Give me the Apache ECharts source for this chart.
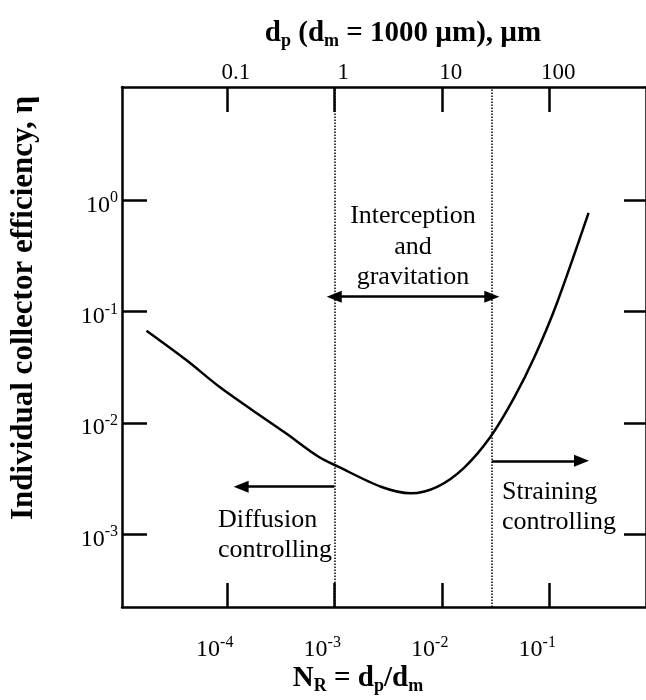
<!DOCTYPE html>
<html>
<head>
<meta charset="utf-8">
<script src="https://cdn.jsdelivr.net/npm/echarts@6/dist/echarts.min.js"></script>
<style>html,body{margin:0;padding:0;background:#fff}#c{width:646px;height:700px}</style>
</head>
<body>
<div id="c"></div>
<script>
// ---- data ----
const nR  = [1.79e-5, 4.20e-5, 8.53e-5, 1.72e-4, 3.52e-4, 7.14e-4, 1.09e-3, 2.72e-3, 5.15e-3, 9.16e-3, 0.0161, 0.0283, 0.0470, 0.0735, 0.117, 0.232];
const eta = [0.0673, 0.0367, 0.0211, 0.01306, 8.11e-3, 4.97e-3, 4.04e-3, 2.67e-3, 2.33e-3, 2.68e-3, 3.95e-3, 7.46e-3, 0.01675, 0.0399, 0.117, 0.769];
const bottomTicks = [1e-4, 1e-3, 1e-2, 1e-1];
const topTicks = [0.1, 1, 10, 100];
const topTickLabels = ['0.1', '1', '10', '100'];
const yTicks = [1, 0.1, 0.01, 0.001];
const regionBounds = [1e-3, 0.0292];          // dotted boundaries (N_R)
const interArrowY = 0.136;                    // double arrow level
const diffArrow = [[1e-3, 2.67e-3], [1.36e-4, 2.67e-3]];
const strainArrow = [[0.0292, 4.57e-3], [0.1995, 4.57e-3]];
const dm = 1000; // µm
const xRange = [1.06e-5, 0.794];
const yRange = [2.22e-4, 10.4];

const FONT = "'Liberation Serif','Times New Roman',serif";
const chart = echarts.init(document.getElementById('c'), null, {renderer: 'canvas'});
const supRich = {
  n: {fontFamily: FONT, fontSize: 24, color: '#000'},
  e: {fontFamily: FONT, fontSize: 16, color: '#000', padding: [0, 0, 14, 0]}
};
function pow10Label(v) {
  const e = Math.round(Math.log10(v));
  return '{n|10}{e|' + e + '}';
}
const black = '#000';
const pts = nR.map((x, i) => [x, eta[i]]);

chart.setOption({
  animation: false,
  backgroundColor: '#fff',
  grid: {left: 122, top: 87, right: -4, bottom: 93, containLabel: false},
  xAxis: [
    {
      type: 'log', position: 'bottom', min: xRange[0], max: xRange[1],
      axisLine: {show: true, lineStyle: {color: black, width: 2.5}},
      axisTick: {show: true, inside: true, length: 24, lineStyle: {color: black, width: 2.5}, customValues: bottomTicks},
      axisLabel: {show: true, customValues: bottomTicks, formatter: pow10Label, rich: supRich, margin: 28, padding: [0, 24, 0, 0]},
      splitLine: {show: false}, minorTick: {show: false}
    },
    {
      type: 'log', position: 'top', min: xRange[0] * dm, max: xRange[1] * dm,
      axisLine: {show: true, lineStyle: {color: black, width: 2.5}},
      axisTick: {show: true, inside: true, length: 25, lineStyle: {color: black, width: 2.5}, customValues: topTicks},
      axisLabel: {show: true, customValues: topTicks, margin: 3, padding: [0, 0, 0, 18],
        formatter: v => topTickLabels[topTicks.findIndex(t => Math.abs(t - v) / t < 1e-6)] || '',
        fontFamily: FONT, fontSize: 23, color: black},
      splitLine: {show: false}
    }
  ],
  yAxis: [
    {
      type: 'log', position: 'left', min: yRange[0], max: yRange[1],
      axisLine: {show: true, lineStyle: {color: black, width: 2.5}},
      axisTick: {show: true, inside: true, length: 25, lineStyle: {color: black, width: 2.5}, customValues: yTicks},
      axisLabel: {show: true, customValues: yTicks, formatter: pow10Label, rich: supRich, margin: 4, padding: [10, 0, 0, 0]},
      splitLine: {show: false}
    },
    {
      type: 'log', position: 'right', min: yRange[0], max: yRange[1],
      axisLine: {show: true, lineStyle: {color: black, width: 2.5}},
      axisTick: {show: true, inside: true, length: 22, lineStyle: {color: black, width: 2.5}, customValues: yTicks},
      axisLabel: {show: false},
      splitLine: {show: false}
    }
  ],
  series: [
    {
      type: 'line', xAxisIndex: 0, yAxisIndex: 0, data: pts, smooth: 0.3,
      showSymbol: false, lineStyle: {color: black, width: 2.5},
      markLine: {
        silent: true, animation: false,
        label: {show: false},
        symbol: ['none', 'none'],
        lineStyle: {color: black, type: 'dotted', width: 1.5},
        data: [
          ...regionBounds.map(v => [{coord: [v, yRange[0]]}, {coord: [v, yRange[1]]}]),
          [{coord: [regionBounds[0], interArrowY], symbol: 'triangle', symbolSize: [12, 15], lineStyle: {type: 'solid', width: 2.5}},
           {coord: [regionBounds[1], interArrowY], symbol: 'triangle', symbolSize: [12, 15]}],
          [{coord: diffArrow[0], symbol: 'none', lineStyle: {type: 'solid', width: 2.5}},
           {coord: diffArrow[1], symbol: 'triangle', symbolSize: [12, 15]}],
          [{coord: strainArrow[0], symbol: 'none', lineStyle: {type: 'solid', width: 2.5}},
           {coord: strainArrow[1], symbol: 'triangle', symbolSize: [12, 15]}]
        ]
      }
    }
  ],
  graphic: [
    {type: 'text', x: 403, y: 34, style: {
      text: '{b|d}{s|p}{b| (d}{s|m}{b| = 1000 µm), µm}', textAlign: 'center', textVerticalAlign: 'middle',
      rich: {b: {fontFamily: FONT, fontWeight: 'bold', fontSize: 29, color: black},
             s: {fontFamily: FONT, fontWeight: 'bold', fontSize: 18, color: black, padding: [14, 0, 0, 0]}}}},
    {type: 'text', x: 358, y: 679, style: {
      text: '{b|N}{s|R}{b| = d}{s|p}{b|/d}{s|m}', textAlign: 'center', textVerticalAlign: 'middle',
      rich: {b: {fontFamily: FONT, fontWeight: 'bold', fontSize: 29, color: black},
             s: {fontFamily: FONT, fontWeight: 'bold', fontSize: 18, color: black, padding: [14, 0, 0, 0]}}}},
    {type: 'text', x: 24, y: 308, rotation: Math.PI / 2, style: {
      text: 'Individual collector efficiency, η', textAlign: 'center', textVerticalAlign: 'middle',
      fontFamily: FONT, fontWeight: 'bold', fontSize: 31, fill: black}},
    {type: 'text', x: 413, y: 247, style: {
      text: 'Interception\nand\ngravitation', textAlign: 'center', textVerticalAlign: 'middle',
      fontFamily: FONT, fontSize: 26, lineHeight: 30.5, fill: black}},
    {type: 'text', x: 218, y: 535, style: {
      text: 'Diffusion\ncontrolling', textAlign: 'left', textVerticalAlign: 'middle',
      fontFamily: FONT, fontSize: 26, lineHeight: 30, fill: black}},
    {type: 'text', x: 502, y: 507, style: {
      text: 'Straining\ncontrolling', textAlign: 'left', textVerticalAlign: 'middle',
      fontFamily: FONT, fontSize: 26, lineHeight: 30, fill: black}}
  ]
});
</script>
</body>
</html>
